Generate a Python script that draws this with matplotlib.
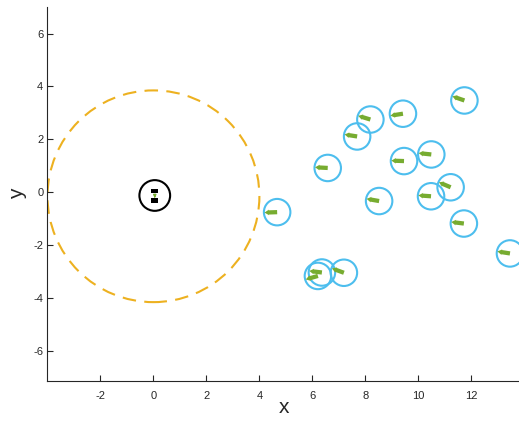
import numpy as np
import matplotlib
matplotlib.use("Agg")
import matplotlib.pyplot as plt
from matplotlib.patches import Circle, Rectangle

plt.rcParams['font.family'] = ['Liberation Sans', 'DejaVu Sans']
plt.rcParams['axes.unicode_minus'] = False

# robot at origin and its sensing range
robot_x, robot_y = 0.05, -0.12
range_center = (0.0, -0.15)
range_radius = 4.0

# agents: position and heading (deg)
agent_x = [4.67, 6.58, 7.69, 8.19, 9.42, 11.74, 10.49, 9.46, 8.52, 10.48,
           11.22, 11.72, 13.46, 7.19, 6.36, 6.21]
agent_y = [-0.75, 0.92, 2.11, 2.75, 2.97, 3.47, 1.43, 1.18, -0.33, -0.15,
           0.19, -1.18, -2.31, -3.04, -3.03, -3.16]
agent_heading = [182, 177, 171, 163, 189, 161, 174, 178, 170, 176,
                 157, 173, 171, 160, 173, 196]
agent_radius = 0.5
arrow_len = 0.48

blue = '#4DBEEE'
green = '#77AC30'
orange = '#EDB120'
axcol = '#262626'

fig = plt.figure(figsize=(5.19, 4.24), dpi=100)
ax = fig.add_axes([0.0915, 0.1014, 0.911, 0.882])

ax.add_patch(Circle(range_center, range_radius, fill=False, ec=orange,
                    lw=1.5, ls=(0, (6.5, 4))))

for x, y in zip(agent_x, agent_y):
    ax.add_patch(Circle((x, y), agent_radius, fill=False, ec=blue, lw=1.5))

u = [arrow_len * np.cos(np.radians(h)) for h in agent_heading]
v = [arrow_len * np.sin(np.radians(h)) for h in agent_heading]
ax.quiver(agent_x, agent_y, u, v, angles='xy', scale_units='xy', scale=1,
          color=green, width=0.009, headwidth=1.35, headlength=1.1,
          headaxislength=1.0, zorder=3)

# robot icon
ax.add_patch(Circle((robot_x, robot_y), 0.58, fill=False, ec='black', lw=1.5))
ax.add_patch(Rectangle((robot_x - 0.13, robot_y + 0.08), 0.26, 0.17,
                       fc='black', ec='none'))
ax.add_patch(Rectangle((robot_x - 0.13, robot_y - 0.27), 0.26, 0.17,
                       fc='black', ec='none'))
ax.annotate('', xy=(robot_x, robot_y - 0.1), xytext=(robot_x, robot_y + 0.08),
            arrowprops=dict(arrowstyle='-|>', color=green, lw=1,
                            mutation_scale=4))

ax.set_xlim(-4, 13.85)
ax.set_ylim(-7.13, 7)
ax.set_xticks([-2, 0, 2, 4, 6, 8, 10, 12])
ax.set_yticks([-6, -4, -2, 0, 2, 4, 6])
for s in ['top', 'right']:
    ax.spines[s].set_visible(False)
for s in ['left', 'bottom']:
    ax.spines[s].set_color(axcol)
    ax.spines[s].set_linewidth(0.8)
ax.tick_params(direction='in', length=4, width=0.8, colors=axcol,
               labelsize=8)
ax.tick_params(axis='x', pad=7)
ax.tick_params(axis='y', pad=3)
ax.set_xlabel('x', fontsize=15, color=axcol)
ax.set_ylabel('y', fontsize=15, color=axcol)
ax.xaxis.set_label_coords(0.501, -0.045)
ax.yaxis.set_label_coords(-0.044, 0.5)

fig.savefig('out.png', dpi=100)
